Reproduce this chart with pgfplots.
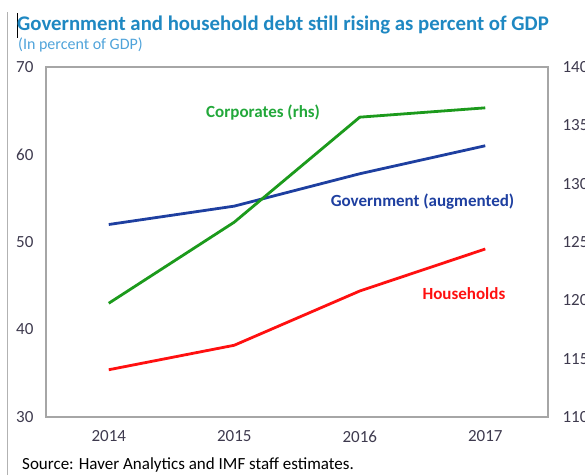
\documentclass[border=0pt]{standalone}
\usepackage{pgfplots}
\pgfplotsset{compat=1.18}
\usepackage{fontspec}
\setmainfont{Carlito}

\definecolor{titleblue}{HTML}{1F88C2}
\definecolor{subblue}{HTML}{4FA3DA}
\definecolor{govblue}{HTML}{1E3FA0}
\definecolor{corpgreen}{HTML}{1C9A1C}
\definecolor{corplabel}{HTML}{22A83A}
\definecolor{hhred}{HTML}{FF1010}
\definecolor{ticktext}{HTML}{3E3A4E}

\begin{document}
\begin{tikzpicture}[x=1pt,y=1pt]
\path[use as bounding box] (0,0) rectangle (585,475);
% left edge rule and title block
\draw[black!30, line width=1.5pt] (7.5,0) -- (7.5,463);
\draw[black, line width=1pt] (17,437) -- (17,462);
\node[anchor=west, inner sep=0pt, text=titleblue, font=\fontsize{20.8}{23}\selectfont\bfseries] at (17,450) {Government and household debt still rising as percent of GDP};
\node[anchor=west, inner sep=0pt, text=subblue, font=\fontsize{16}{18}\selectfont] at (18,430) {(In percent of GDP)};
\node[anchor=west, inner sep=0pt, font=\fontsize{17}{19}\selectfont] at (22,10) {Source: Haver Analytics and IMF staff estimates.};

\begin{axis}[
    at={(46pt,58pt)}, anchor=south west,
    scale only axis, width=502pt, height=350pt,
    xmin=2013.5, xmax=2017.5,
    ymin=30, ymax=70,
    xtick={2014,2015,2016,2017},
    ytick={30,40,50,60,70},
    major tick length=0pt,
    axis line style={draw=black!35, line width=1.2pt},
    tick label style={font=\fontsize{17}{19}\selectfont, text=ticktext},
    /pgf/number format/assume math mode=true,
    /pgf/number format/1000 sep={},
    yticklabel style={xshift=-9pt},
    xticklabel style={yshift=-10pt},
    clip=false,
]
\addplot[govblue, line width=2.8pt] coordinates {
    (2014,52.0) (2015,54.1) (2016,57.8) (2017,61.0)
};
\addplot[hhred, line width=2.8pt] coordinates {
    (2014,35.4) (2015,38.2) (2016,44.4) (2017,49.2)
};
\node[text=corplabel, font=\fontsize{17}{19}\selectfont\bfseries] at (axis cs:2015.23,64.74) {Corporates (rhs)};
\node[text=govblue, font=\fontsize{17}{19}\selectfont\bfseries] at (axis cs:2016.5,54.6) {Government (augmented)};
\node[text=hhred, font=\fontsize{17}{19}\selectfont\bfseries] at (axis cs:2016.83,44.06) {Households};
\end{axis}

\begin{axis}[
    at={(46pt,58pt)}, anchor=south west,
    scale only axis, width=502pt, height=350pt,
    xmin=2013.5, xmax=2017.5,
    ymin=110, ymax=140,
    ytick={110,115,120,125,130,135,140},
    axis x line=none,
    axis y line*=right,
    axis line style={draw=none},
    major tick length=0pt,
    tick label style={font=\fontsize{17}{19}\selectfont, text=ticktext},
    /pgf/number format/assume math mode=true,
    yticklabel style={xshift=11pt},
]
\addplot[corpgreen, line width=2.8pt] coordinates {
    (2014,119.75) (2015,126.7) (2016,135.7) (2017,136.5)
};
\end{axis}
\end{tikzpicture}
\end{document}
